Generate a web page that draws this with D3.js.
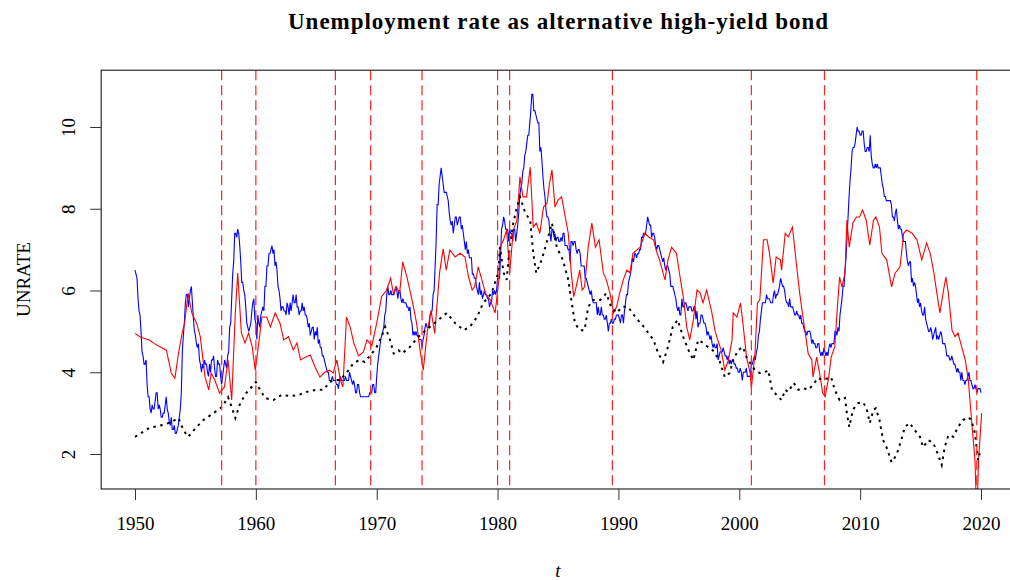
<!DOCTYPE html>
<html>
<head>
<meta charset="utf-8">
<script src="https://cdn.jsdelivr.net/npm/d3@7"></script>
<style>
body { margin: 0; background: #fff; }
text { font-family: "Liberation Serif", "Times New Roman", serif; fill: #000; }
</style>
</head>
<body>
<svg width="1010" height="580"></svg>
<script>
// monthly UNRATE, starting Jan 1950
var startYear = 1950;
var unrate = [
6.5,6.4,6.3,5.8,5.5,5.4,5.0,4.5,4.4,4.2,4.2,4.3,
3.7,3.4,3.4,3.1,3.0,3.2,3.1,3.1,3.3,3.5,3.5,3.1,
3.2,3.1,2.9,2.9,3.0,3.0,3.2,3.4,3.1,3.0,2.8,2.7,
2.9,2.6,2.6,2.7,2.5,2.5,2.6,2.7,2.9,3.1,3.5,4.5,
4.9,5.2,5.7,5.9,5.9,5.6,5.8,6.0,6.1,5.7,5.3,5.0,
4.9,4.7,4.6,4.7,4.3,4.2,4.0,4.2,4.1,4.3,4.2,4.2,
4.0,3.9,4.2,4.0,4.3,4.3,4.4,4.1,3.9,3.9,4.3,4.2,
4.2,3.9,3.7,3.9,4.1,4.3,4.2,4.1,4.4,4.5,5.1,5.2,
5.8,6.4,6.7,7.4,7.4,7.3,7.5,7.4,7.1,6.7,6.2,6.2,
6.0,5.9,5.6,5.2,5.1,5.0,5.1,5.2,5.5,5.7,5.8,5.3,
5.2,4.8,5.4,5.2,5.1,5.4,5.5,5.6,5.5,6.1,6.1,6.6,
6.6,6.9,6.9,7.0,7.1,6.9,7.0,6.6,6.7,6.5,6.1,6.0,
5.8,5.5,5.6,5.6,5.5,5.5,5.4,5.7,5.6,5.4,5.7,5.5,
5.7,5.9,5.7,5.7,5.9,5.6,5.6,5.4,5.5,5.5,5.7,5.5,
5.6,5.4,5.4,5.3,5.1,5.2,4.9,5.0,5.1,5.1,4.8,5.0,
4.9,5.1,4.7,4.8,4.6,4.6,4.4,4.4,4.3,4.2,4.1,4.0,
4.0,3.8,3.8,3.8,3.9,3.8,3.8,3.8,3.7,3.7,3.6,3.8,
3.9,3.8,3.8,3.8,3.8,3.9,3.8,3.8,3.8,4.0,3.9,3.8,
3.7,3.8,3.7,3.5,3.5,3.7,3.7,3.5,3.4,3.4,3.4,3.4,
3.4,3.4,3.4,3.4,3.4,3.5,3.5,3.5,3.7,3.7,3.5,3.5,
3.9,4.2,4.4,4.6,4.8,4.9,5.0,5.1,5.4,5.5,5.9,6.1,
5.9,5.9,6.0,5.9,5.9,5.9,6.0,6.1,6.0,5.8,6.0,6.0,
5.8,5.7,5.8,5.7,5.7,5.7,5.6,5.6,5.5,5.6,5.3,5.2,
4.9,5.0,4.9,5.0,4.9,4.9,4.8,4.8,4.8,4.6,4.8,4.9,
5.1,5.2,5.1,5.1,5.1,5.4,5.5,5.5,5.9,6.0,6.6,7.2,
8.1,8.1,8.6,8.8,9.0,8.8,8.6,8.4,8.4,8.4,8.3,8.2,
7.9,7.7,7.6,7.7,7.4,7.6,7.8,7.8,7.6,7.7,7.8,7.8,
7.5,7.6,7.4,7.2,7.0,7.2,6.9,7.0,6.8,6.8,6.8,6.4,
6.4,6.3,6.3,6.1,6.0,5.9,6.2,5.9,6.0,5.8,5.9,6.0,
5.9,5.9,5.8,5.8,5.6,5.7,5.7,6.0,5.9,6.0,5.9,6.0,
6.3,6.3,6.3,6.9,7.5,7.6,7.8,7.7,7.5,7.5,7.5,7.2,
7.5,7.4,7.4,7.2,7.5,7.5,7.2,7.4,7.6,7.9,8.3,8.5,
8.6,8.9,9.0,9.3,9.4,9.6,9.8,9.8,10.1,10.4,10.8,10.8,
10.4,10.4,10.3,10.2,10.1,10.1,9.4,9.5,9.2,8.8,8.5,8.3,
8.0,7.8,7.8,7.7,7.4,7.2,7.5,7.5,7.3,7.4,7.2,7.3,
7.3,7.2,7.2,7.3,7.2,7.4,7.4,7.1,7.1,7.1,7.0,7.0,
6.7,7.2,7.2,7.1,7.2,7.2,7.0,6.9,7.0,7.0,6.9,6.6,
6.6,6.6,6.6,6.3,6.3,6.2,6.1,6.0,5.9,6.0,5.8,5.7,
5.7,5.7,5.7,5.4,5.6,5.4,5.4,5.6,5.4,5.4,5.3,5.3,
5.4,5.2,5.0,5.2,5.2,5.3,5.2,5.2,5.3,5.3,5.4,5.4,
5.4,5.3,5.2,5.4,5.4,5.2,5.5,5.7,5.9,5.9,6.2,6.3,
6.4,6.6,6.8,6.7,6.9,6.9,6.8,6.9,6.9,7.0,7.0,7.3,
7.3,7.4,7.4,7.4,7.6,7.8,7.7,7.6,7.6,7.3,7.4,7.4,
7.3,7.1,7.0,7.1,7.1,7.0,6.9,6.8,6.7,6.8,6.6,6.5,
6.6,6.6,6.5,6.4,6.1,6.1,6.1,6.0,5.9,5.8,5.6,5.5,
5.6,5.4,5.4,5.8,5.6,5.6,5.7,5.7,5.6,5.5,5.6,5.6,
5.6,5.5,5.5,5.6,5.6,5.3,5.5,5.1,5.2,5.2,5.4,5.4,
5.3,5.2,5.2,5.1,4.9,5.0,4.9,4.8,4.9,4.7,4.6,4.7,
4.6,4.6,4.7,4.3,4.4,4.5,4.5,4.5,4.6,4.5,4.4,4.4,
4.3,4.4,4.2,4.3,4.2,4.3,4.3,4.2,4.2,4.1,4.1,4.0,
4.0,4.1,4.0,3.8,4.0,4.0,4.0,4.1,3.9,3.9,3.9,3.9,
4.2,4.2,4.3,4.4,4.3,4.5,4.6,4.9,5.0,5.3,5.5,5.7,
5.7,5.7,5.7,5.9,5.8,5.8,5.8,5.7,5.7,5.7,5.9,6.0,
5.8,5.9,5.9,6.0,6.1,6.3,6.2,6.1,6.1,6.0,5.8,5.7,
5.7,5.6,5.8,5.6,5.6,5.6,5.5,5.4,5.4,5.5,5.4,5.4,
5.3,5.4,5.2,5.2,5.1,5.0,5.0,4.9,5.0,5.0,5.0,4.9,
4.7,4.8,4.7,4.7,4.6,4.6,4.7,4.7,4.5,4.4,4.5,4.4,
4.6,4.5,4.4,4.5,4.4,4.6,4.7,4.6,4.7,4.7,4.7,5.0,
5.0,4.9,5.1,5.0,5.4,5.6,5.8,6.1,6.1,6.5,6.8,7.3,
7.8,8.3,8.7,9.0,9.4,9.5,9.5,9.6,9.8,10.0,9.9,9.9,
9.8,9.8,9.9,9.9,9.6,9.4,9.4,9.5,9.5,9.4,9.8,9.3,
9.1,9.0,9.0,9.1,9.0,9.1,9.0,9.0,9.0,8.8,8.6,8.5,
8.3,8.3,8.2,8.2,8.2,8.2,8.2,8.1,7.8,7.8,7.7,7.9,
8.0,7.7,7.5,7.6,7.5,7.5,7.3,7.2,7.2,7.2,6.9,6.7,
6.6,6.7,6.7,6.2,6.3,6.1,6.2,6.1,5.9,5.7,5.8,5.6,
5.7,5.5,5.4,5.4,5.6,5.3,5.2,5.1,5.0,5.0,5.1,5.0,
4.8,4.9,5.0,5.1,4.8,4.9,4.8,4.9,5.0,4.9,4.7,4.7,
4.7,4.6,4.4,4.4,4.4,4.3,4.3,4.4,4.3,4.2,4.2,4.1,
4.0,4.1,4.0,4.0,3.8,4.0,3.8,3.8,3.7,3.8,3.8,3.9,
4.0,3.8,3.8,3.7,3.6,3.6,3.7,3.6,3.5,3.6,3.6,3.6,
3.5
];

// red series [t, value]
var redPts = [
[1950.0,4.95],[1950.5,4.85],[1951.2,4.79],[1951.6,4.7],[1952.1,4.62],[1952.6,4.54],
[1953.0,3.98],[1953.3,3.85],[1953.6,4.46],[1953.9,4.96],[1954.1,5.2],[1954.4,5.93],
[1954.7,5.45],[1955.1,5.2],[1955.4,4.87],[1955.8,3.88],[1956.1,3.57],[1956.3,3.98],
[1956.6,3.81],[1957.0,3.49],[1957.4,3.64],[1957.7,4.3],[1958.0,3.32],[1958.3,5.45],
[1958.5,6.43],[1958.8,4.96],[1959.1,4.72],[1959.4,4.96],[1959.7,4.62],[1959.95,4.05],
[1960.2,4.62],[1960.5,5.35],[1960.9,5.35],[1961.2,5.11],[1961.6,5.45],[1962.0,5.2],
[1962.3,4.79],[1962.7,4.87],[1963.1,4.54],[1963.4,4.72],[1963.7,4.3],[1964.1,4.37],
[1964.5,4.42],[1964.9,4.13],[1965.3,3.88],[1965.7,4.0],[1966.1,4.05],[1966.4,3.98],
[1966.7,4.3],[1967.0,3.81],[1967.2,3.64],[1967.5,5.35],[1967.8,5.11],[1968.1,4.72],
[1968.5,4.4],[1968.9,4.5],[1969.2,4.79],[1969.6,4.65],[1970.0,5.2],[1970.4,5.85],
[1970.8,6.0],[1971.15,6.3],[1971.4,5.9],[1971.6,6.09],[1971.9,5.95],[1972.15,6.7],
[1972.5,6.33],[1972.9,5.8],[1973.3,5.2],[1973.55,4.62],[1973.85,4.05],[1974.2,5.03],
[1974.5,5.5],[1974.8,4.95],[1975.2,6.43],[1975.5,7.02],[1975.75,6.5],[1976.05,6.99],
[1976.5,6.82],[1976.9,6.91],[1977.3,6.82],[1977.6,6.33],[1977.9,6.01],[1978.1,6.09],
[1978.4,6.58],[1978.7,6.26],[1979.0,5.93],[1979.4,5.77],[1979.8,5.45],[1980.1,6.26],
[1980.2,7.06],[1980.5,7.24],[1980.75,7.48],[1981.0,6.43],[1981.3,7.48],[1981.6,7.72],
[1981.85,8.78],[1982.1,8.29],[1982.4,8.29],[1982.7,9.02],[1982.95,7.55],[1983.2,7.65],
[1983.5,7.4],[1983.8,8.04],[1984.1,8.14],[1984.3,8.63],[1984.5,8.95],[1984.75,8.04],
[1985.0,8.21],[1985.3,8.29],[1985.6,7.8],[1985.85,7.4],[1986.1,6.43],[1986.3,5.85],
[1986.5,6.09],[1986.8,6.5],[1987.0,6.01],[1987.2,6.09],[1987.5,7.06],[1987.8,7.65],
[1988.1,7.06],[1988.4,7.24],[1988.75,6.43],[1989.0,6.26],[1989.3,5.93],[1989.6,5.45],
[1989.85,5.6],[1990.1,5.93],[1990.4,6.26],[1990.7,6.5],[1990.95,6.43],[1991.2,6.91],
[1991.8,7.06],[1992.2,7.4],[1992.5,7.31],[1992.9,7.24],[1993.2,6.91],[1993.4,6.75],
[1993.85,6.26],[1994.1,6.75],[1994.4,7.06],[1994.8,6.91],[1995.1,6.33],[1995.4,5.77],
[1995.65,5.11],[1995.9,4.79],[1996.2,5.28],[1996.5,6.01],[1996.75,5.95],[1997.0,5.7],
[1997.3,6.01],[1997.7,5.5],[1998.0,5.0],[1998.3,4.72],[1998.5,4.54],[1998.8,4.05],
[1999.1,4.3],[1999.4,4.79],[1999.5,5.45],[1999.8,5.35],[2000.1,5.69],[2000.3,5.2],
[2000.6,4.37],[2000.9,3.98],[2001.0,3.61],[2001.3,4.46],[2001.5,5.69],[2001.7,5.77],
[2002.0,7.24],[2002.3,7.24],[2002.5,6.91],[2002.8,6.18],[2003.05,6.82],[2003.4,6.75],
[2003.5,6.5],[2003.8,7.4],[2004.05,7.31],[2004.4,7.55],[2004.75,6.58],[2005.0,5.93],
[2005.3,5.28],[2005.7,4.46],[2006.0,4.3],[2006.1,3.88],[2006.4,4.37],[2006.7,3.88],
[2006.9,3.49],[2007.1,3.4],[2007.4,3.88],[2007.6,4.37],[2007.9,4.62],[2008.1,5.52],
[2008.3,6.33],[2008.5,6.09],[2008.75,6.43],[2008.9,7.72],[2009.1,7.06],[2009.4,7.65],
[2009.7,7.8],[2009.95,7.8],[2010.2,7.97],[2010.5,7.72],[2010.8,7.11],[2011.1,7.72],
[2011.3,7.8],[2011.6,7.55],[2011.8,6.91],[2012.2,6.75],[2012.6,6.09],[2012.9,6.43],
[2013.3,6.58],[2013.6,7.4],[2013.85,7.48],[2014.3,7.4],[2014.7,7.24],[2015.1,6.75],
[2015.5,7.16],[2015.8,6.91],[2016.1,6.43],[2016.35,5.93],[2016.6,5.45],[2016.9,6.01],
[2017.1,6.33],[2017.3,5.93],[2017.6,5.03],[2017.85,4.87],[2018.1,4.96],[2018.4,4.62],
[2018.7,4.3],[2018.95,3.81],[2019.2,2.9],[2019.5,1.85],[2019.6,0.9],[2019.7,0.9],
[2019.8,1.85],[2020.05,3.0]
];

// black dotted series [t, value]
var dotPts = [
[1950.0,2.42],[1951.2,2.64],[1952.3,2.71],[1953.0,2.78],[1953.6,2.88],[1954.0,2.59],
[1954.4,2.42],[1955.1,2.66],[1955.65,2.83],[1956.5,3.0],[1957.2,3.15],[1957.7,3.39],
[1958.0,3.15],[1958.3,2.88],[1958.7,3.24],[1959.2,3.49],[1959.65,3.64],[1960.0,3.76],
[1960.35,3.57],[1960.75,3.37],[1961.45,3.32],[1962.1,3.44],[1962.8,3.42],[1963.5,3.44],
[1964.2,3.52],[1965.0,3.57],[1965.6,3.57],[1966.1,3.76],[1966.55,3.81],[1966.95,3.81],
[1967.5,3.98],[1968.1,4.23],[1968.6,4.3],[1969.0,4.25],[1969.6,4.46],[1970.0,4.62],
[1970.4,4.87],[1970.7,5.11],[1971.1,4.79],[1971.4,4.46],[1971.8,4.54],[1972.1,4.46],
[1972.75,4.62],[1973.45,4.87],[1974.4,5.11],[1975.1,5.28],[1975.8,5.45],[1976.5,5.2],
[1977.2,5.03],[1977.7,5.11],[1978.3,5.35],[1978.8,5.69],[1979.5,5.93],[1980.05,6.43],
[1980.2,7.06],[1980.5,6.43],[1980.75,6.26],[1981.0,7.06],[1981.3,7.65],[1981.6,8.04],
[1981.85,8.29],[1982.3,7.89],[1982.7,7.72],[1982.95,6.91],[1983.2,6.43],[1983.65,6.75],
[1984.05,7.16],[1984.5,7.65],[1984.9,7.06],[1985.4,6.75],[1985.85,6.26],[1986.1,5.77],
[1986.4,5.2],[1986.8,5.03],[1987.2,5.03],[1987.5,5.6],[1987.9,5.77],[1988.5,5.77],
[1989.0,5.93],[1989.4,5.6],[1989.85,5.45],[1990.3,5.6],[1990.8,5.6],[1991.4,5.35],
[1992.1,5.11],[1992.9,4.79],[1993.3,4.46],[1993.7,4.25],[1994.1,4.62],[1994.5,5.11],
[1994.9,5.28],[1995.35,4.87],[1995.8,4.54],[1996.2,4.3],[1996.6,4.79],[1997.0,4.72],
[1997.4,4.62],[1997.8,4.54],[1998.35,4.3],[1998.8,3.88],[1999.2,3.98],[1999.5,4.3],
[1999.9,4.54],[2000.3,4.62],[2000.6,4.37],[2000.9,4.23],[2001.3,4.05],[2001.7,3.98],
[2002.1,4.0],[2002.4,4.05],[2002.7,3.57],[2003.1,3.44],[2003.5,3.32],[2003.8,3.57],
[2004.05,3.52],[2004.5,3.74],[2004.9,3.57],[2005.3,3.61],[2005.7,3.57],[2006.1,3.69],
[2006.5,3.86],[2006.9,3.81],[2007.4,3.86],[2007.6,3.88],[2007.9,3.57],[2008.3,3.32],
[2008.75,3.37],[2008.9,3.0],[2009.1,2.66],[2009.4,3.08],[2009.8,3.24],[2010.2,3.27],
[2010.5,3.15],[2010.8,2.76],[2011.1,3.08],[2011.3,3.12],[2011.6,2.83],[2011.9,2.34],
[2012.2,2.15],[2012.6,1.8],[2013.0,1.97],[2013.4,2.34],[2013.7,2.66],[2014.1,2.76],
[2014.5,2.59],[2014.95,2.42],[2015.2,2.17],[2015.65,2.34],[2016.05,2.27],[2016.4,2.02],
[2016.75,1.73],[2017.0,2.17],[2017.3,2.46],[2017.7,2.42],[2018.1,2.66],[2018.5,2.83],
[2018.95,2.9],[2019.2,2.83],[2019.5,2.51],[2019.75,1.85],[2019.9,2.02]
];

// dashed vertical markers
var breaks = [1957.17, 1960.0, 1966.58, 1969.5, 1973.75, 1980.0, 1981.0, 1989.5, 2001.0, 2007.05, 2019.65];

var xTicks = [1950, 1960, 1970, 1980, 1990, 2000, 2010, 2020];
var yTicks = [2, 4, 6, 8, 10];

function draw_chart(){
	var svg = d3.select('svg');
	var x = d3.scaleLinear().domain([1950, 2020]).range([135, 981]);
	var y = d3.scaleLinear().domain([2, 10]).range([454, 127]);
	var pLeft = x(1947.2), pRight = x(2022.8), pTop = y(11.39), pBottom = y(1.144);

	svg.append('rect').attr('width', 1010).attr('height', 580).attr('fill', '#fff');

	svg.append('clipPath').attr('id', 'plotclip')
		.append('rect')
		.attr('x', pLeft).attr('y', pTop)
		.attr('width', pRight - pLeft).attr('height', pBottom - pTop);

	var plot = svg.append('g').attr('clip-path', 'url(#plotclip)');

	var lineT = d3.line().x(function(d){ return x(d[0]); }).y(function(d){ return y(d[1]); });
	var blueData = unrate.map(function(v, i){ return [startYear + i / 12, v]; });

	plot.append('path').datum(blueData)
		.attr('d', lineT).attr('fill', 'none')
		.attr('stroke', '#0000ff').attr('stroke-width', 1.1);

	plot.append('path').datum(redPts)
		.attr('d', lineT).attr('fill', 'none')
		.attr('stroke', '#ff0000').attr('stroke-width', 1.1);

	plot.append('path').datum(dotPts)
		.attr('d', lineT).attr('fill', 'none')
		.attr('stroke', '#000').attr('stroke-width', 2)
		.attr('stroke-dasharray', '2.5,4.5');

	plot.selectAll('line.brk').data(breaks).enter().append('line')
		.attr('class', 'brk')
		.attr('x1', function(d){ return x(d); }).attr('x2', function(d){ return x(d); })
		.attr('y1', pTop).attr('y2', pBottom)
		.attr('stroke', '#ff2020').attr('stroke-width', 1.2)
		.attr('stroke-dasharray', '10,5');

	// box
	svg.append('rect')
		.attr('x', pLeft).attr('y', pTop)
		.attr('width', pRight - pLeft).attr('height', pBottom - pTop)
		.attr('fill', 'none').attr('stroke', '#000').attr('stroke-width', 1);

	// axes
	var xAxis = svg.append('g').attr('transform', 'translate(0,' + pBottom + ')')
		.call(d3.axisBottom(x).tickValues(xTicks).tickSize(11).tickFormat(d3.format('d')));
	xAxis.select('.domain').remove();
	xAxis.selectAll('line').attr('stroke', '#333');
	xAxis.selectAll('text')
		.attr('y', 41).attr('dy', 0)
		.style('font-family', '"Liberation Serif", serif')
		.style('font-size', '19px').attr('fill', '#000');

	var yAxis = svg.append('g').attr('transform', 'translate(' + pLeft + ',0)')
		.call(d3.axisLeft(y).tickValues(yTicks).tickSize(11));
	yAxis.select('.domain').remove();
	yAxis.selectAll('line').attr('stroke', '#333');
	yAxis.selectAll('text')
		.attr('x', 0).attr('dy', 0)
		.attr('text-anchor', 'middle')
		.attr('transform', 'translate(-26,0) rotate(-90)')
		.style('font-family', '"Liberation Serif", serif')
		.style('font-size', '19px').attr('fill', '#000');

	// labels
	svg.append('text')
		.attr('x', (pLeft + pRight) / 2).attr('y', 29)
		.attr('text-anchor', 'middle')
		.attr('textLength', 540)
		.style('font-size', '23px').style('font-weight', 'bold')
		.text('Unemployment rate as alternative high-yield bond');

	svg.append('text')
		.attr('x', 558).attr('y', 577)
		.attr('text-anchor', 'middle')
		.style('font-size', '19px').style('font-style', 'italic')
		.text('t');

	svg.append('text')
		.attr('transform', 'translate(30,' + ((pTop + pBottom) / 2) + ') rotate(-90)')
		.attr('text-anchor', 'middle')
		.style('font-size', '19px')
		.text('UNRATE');
}

draw_chart();
</script>
</body>
</html>
